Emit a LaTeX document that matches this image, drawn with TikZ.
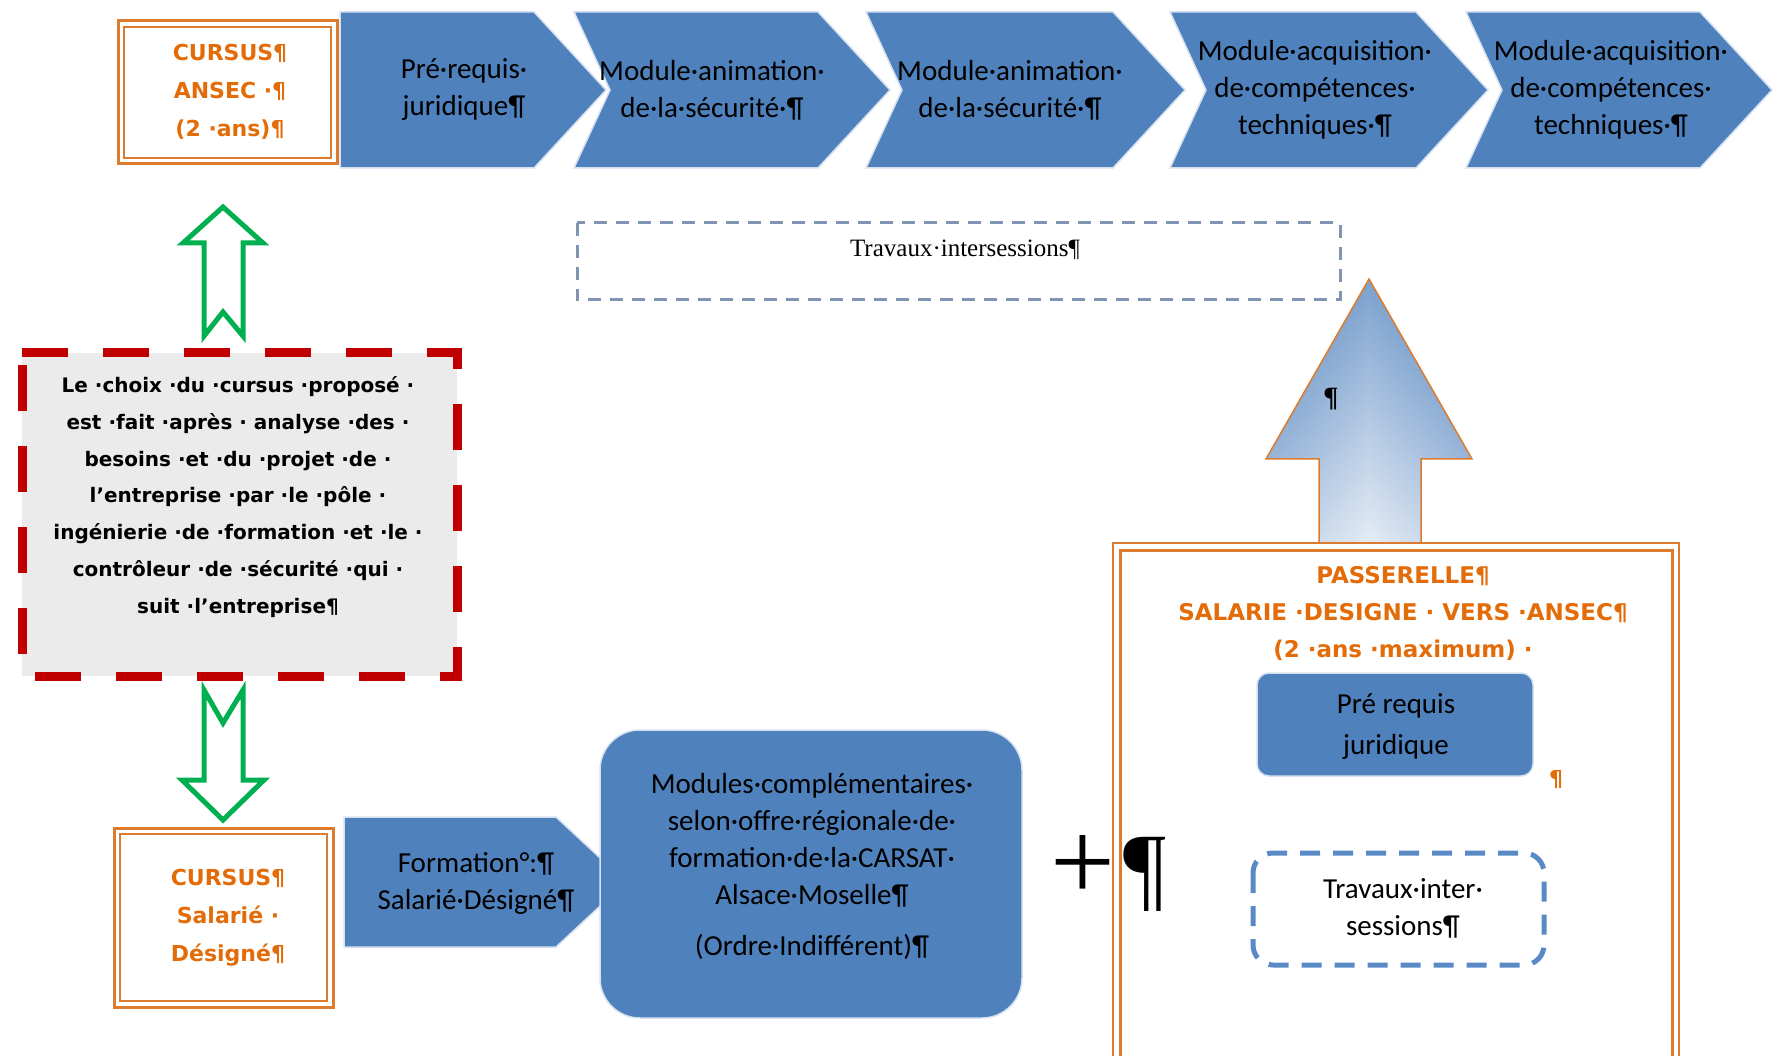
\documentclass[tikz,border=0pt]{standalone}
\usepackage{fontspec}
\setmainfont{Carlito}
\newfontfamily\djv{DejaVu Sans}
\newfontfamily\tnr{Liberation Serif}
\definecolor{cblue}{HTML}{4F81BD}
\definecolor{cglow}{HTML}{D5E1F0}
\definecolor{corange}{HTML}{E36C09}
\definecolor{corline}{HTML}{DC7A2E}
\definecolor{cgreen}{HTML}{00B050}
\definecolor{cred}{HTML}{C00000}
\definecolor{cgray}{HTML}{EBEBEB}
\definecolor{cdash}{HTML}{7F95B3}
\definecolor{cdashb}{HTML}{5A8AC6}
\definecolor{clight}{HTML}{E6EDF6}
\begin{document}
\begin{tikzpicture}[x=1pt,y=-1pt,
  chev/.style={fill=cblue, draw=cglow, line width=1.5pt, line join=miter},
  ctext/.style={align=center, inner sep=0pt, text=black, font=\fontsize{29}{37}\selectfont},
  otext/.style={align=center, inner sep=0pt, text=corange, font=\djv\bfseries\fontsize{22}{38}\selectfont},
  oboxout/.style={draw=corline, line width=3pt},
  oboxin/.style={draw=corline, line width=1.5pt},
  garrow/.style={draw=cgreen, line width=5pt, fill=white, line join=miter, miter limit=6},
]
\useasboundingbox (0,0) rectangle (1773,1056);
\clip (0,0) rectangle (1773,1056);
\fill[white] (0,0) rectangle (1773,1056);

% ---------- top row ----------
\draw[oboxout] (118,21) rectangle (337,164);
\draw[oboxin] (124,27) rectangle (331,158);
\node[otext] (ansec) at (230,92) {CURSUS¶\\ANSEC ·¶\\(2 ·ans)¶};

\path[chev] (340,12) -- (534,12) -- (606,90) -- (534,168) -- (340,168) -- cycle;
\path[chev] (574,12) -- (818,12) -- (890,90) -- (818,168) -- (574,168) -- (610,90) -- cycle;
\path[chev] (866,12) -- (1113,12) -- (1185,90) -- (1113,168) -- (866,168) -- (902,90) -- cycle;
\path[chev] (1170,12) -- (1416,12) -- (1488,90) -- (1416,168) -- (1170,168) -- (1206,90) -- cycle;
\path[chev] (1466,12) -- (1700,12) -- (1772,90) -- (1700,168) -- (1466,168) -- (1502,90) -- cycle;
\node[ctext] (c1) at (464,90) {Pré·requis·\\juridique¶};
\node[ctext] (c2) at (712,90) {Module·animation·\\de·la·sécurité·¶};
\node[ctext] (c3) at (1010,90) {Module·animation·\\de·la·sécurité·¶};
\node[ctext] (c4) at (1315,90) {Module·acquisition·\\de·compétences·\\techniques·¶};
\node[ctext] (c5) at (1611,90) {Module·acquisition·\\de·compétences·\\techniques·¶};

% ---------- travaux intersessions (top) ----------
\draw[cdash, line width=3pt, dash pattern=on 13pt off 9pt] (577,223) rectangle (1340,300);
\node[inner sep=0pt, font=\tnr\fontsize{25}{30}\selectfont] (trav) at (965,250) {Travaux·intersessions¶};

% ---------- green arrows ----------
\path[garrow] (223,207) -- (263,243) -- (243,243) -- (243,336) -- (223,312) -- (204,336) -- (204,243) -- (183,243) -- cycle;
\path[garrow] (204,690) -- (223,723) -- (243,690) -- (243,780) -- (264,780) -- (223,820) -- (182,780) -- (204,780) -- cycle;

% ---------- red dashed box ----------
\fill[cgray] (22,353) rectangle (457,676);
\draw[cred, line width=9pt, dash pattern=on 46pt off 35pt] (22,353) -- (457,353) -- (457,676) -- (22,676) -- cycle;
\node[align=center, inner sep=0pt, font=\djv\bfseries\fontsize{20}{36.7}\selectfont] (choix) at (238,497)
 {Le ·choix ·du ·cursus ·proposé ·\\est ·fait ·après · analyse ·des ·\\besoins ·et ·du ·projet ·de ·\\l’entreprise ·par ·le ·pôle ·\\ingénierie ·de ·formation ·et ·le ·\\contrôleur ·de ·sécurité ·qui ·\\suit ·l’entreprise¶};

% ---------- bottom row ----------
\draw[oboxout] (114,828) rectangle (333,1007);
\draw[oboxin] (120,834) rectangle (327,1001);
\node[otext] (sal) at (228,918) {CURSUS¶\\Salarié ·\\Désigné¶};

\path[chev] (344,817) -- (556,817) -- (626,882) -- (556,947) -- (344,947) -- cycle;
\node[ctext] (form) at (476,883) {Formation°:¶\\Salarié·Désigné¶};

\path[chev, rounded corners=40pt] (600,730) rectangle (1022,1018);
\node[ctext] (mod) at (812,866) {Modules·complémentaires·\\selon·offre·régionale·de·\\formation·de·la·CARSAT·\\Alsace·Moselle¶\\[14pt](Ordre·Indifférent)¶};

% ---------- big gradient arrow ----------
\shade[top color=cblue, bottom color=clight] (1369,279) -- (1472,459) -- (1421,459) -- (1421,545) -- (1319,545) -- (1319,459) -- (1266,459) -- cycle;
\shade[left color=cblue, right color=cblue, middle color=clight, fill opacity=0.3] (1369,279) -- (1472,459) -- (1421,459) -- (1421,545) -- (1319,545) -- (1319,459) -- (1266,459) -- cycle;
\draw[corline, line width=1.5pt] (1369,279) -- (1472,459) -- (1421,459) -- (1421,545) -- (1319,545) -- (1319,459) -- (1266,459) -- cycle;
\node[inner sep=0pt, font=\tnr\bfseries\fontsize{28}{30}\selectfont] (pa) at (1331,399) {¶};

% ---------- passerelle ----------
\fill[white] (1113,543) rectangle (1679,1070);
\draw[oboxin] (1113,543) rectangle (1679,1070);
\draw[oboxout] (1120,550) rectangle (1672,1070);
\node[otext, font=\djv\bfseries\fontsize{23}{37}\selectfont] (pass) at (1403,613) {PASSERELLE¶\\SALARIE ·DESIGNE · VERS ·ANSEC¶\\(2 ·ans ·maximum) ·};
\path[chev, rounded corners=12pt] (1257,673) rectangle (1533,776);
\node[ctext, font=\fontsize{29}{41}\selectfont] (pre) at (1396,727) {Pré requis\\juridique};
\node[inner sep=0pt, text=corange, font=\djv\bfseries\fontsize{22}{24}\selectfont] (pq) at (1556,780) {¶};
\draw[cdashb, line width=5pt, dash pattern=on 20pt off 13pt, rounded corners=20pt] (1253,853) rectangle (1544,965);
\node[ctext] (trav2) at (1403,908) {Travaux·inter·\\sessions¶};

% ---------- plus and pilcrow ----------
\node[inner sep=0pt, font=\tnr\fontsize{115}{120}\selectfont] (plus) at (1083,868) {+};
\node[inner sep=0pt, font=\tnr\fontsize{95}{100}\selectfont] (pil) at (1145,874) {¶};
\end{tikzpicture}
\end{document}
